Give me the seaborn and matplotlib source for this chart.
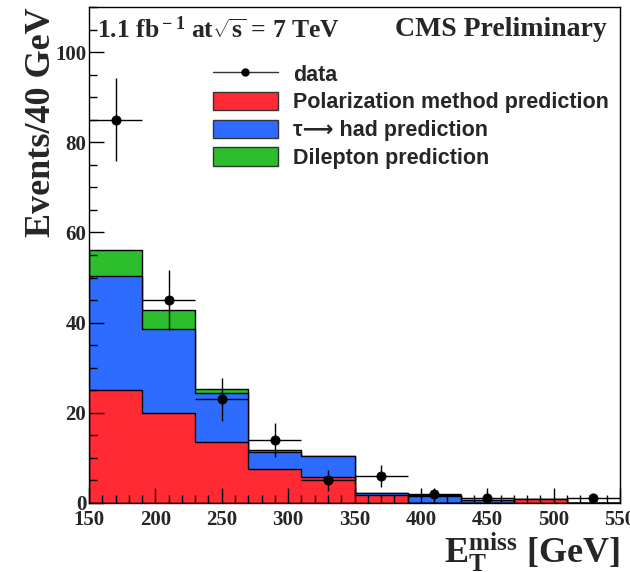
import numpy as np
import pandas as pd
import matplotlib
matplotlib.use("Agg")
import matplotlib.pyplot as plt
from matplotlib.patches import Patch
from matplotlib.lines import Line2D
from matplotlib.ticker import MultipleLocator
import seaborn as sns

# Missing transverse energy bins (GeV)
bin_edges = [150, 190, 230, 270, 310, 350, 390, 430, 470, 510, 550]
bin_centers = [170, 210, 250, 290, 330, 370, 410, 450, 490, 530]

# Background predictions per bin (events / 40 GeV)
polarization_pred = [25.0, 20.0, 13.5, 7.6, 5.7, 1.7, 0.0, 0.0, 0.9, 0.0]
tau_had_pred = [25.3, 18.5, 10.9, 3.6, 4.7, 0.6, 1.6, 0.7, 0.0, 0.0]
dilepton_pred = [5.8, 4.4, 0.8, 0.6, 0.1, 0.0, 0.2, 0.0, 0.0, 0.0]

# Observed events
data_counts = [85, 45, 23, 14, 5, 6, 2, 1, 0, 1]

ytick_values = [0, 20, 40, 60, 80, 100]
xtick_values = [150, 200, 250, 300, 350, 400, 450, 500, 550]

RED = "#FF2A33"
BLUE = "#2E6CFF"
GREEN = "#2DBE2D"

sns.set_style("white")
plt.rcParams["font.family"] = ["Liberation Serif", "DejaVu Serif"]
plt.rcParams["mathtext.fontset"] = "custom"
plt.rcParams["mathtext.rm"] = "Liberation Serif:bold"
plt.rcParams["mathtext.bf"] = "Liberation Serif:bold"
plt.rcParams["mathtext.it"] = "Liberation Serif:bold"

fig = plt.figure(figsize=(6.30, 5.72), dpi=100)
ax = fig.add_axes([89 / 630, 1 - 503 / 572, 531 / 630, 496 / 572])

pol = np.array(polarization_pred)
tau = np.array(tau_had_pred)
dil = np.array(dilepton_pred)

# Stacked layers, drawn from the total down so each lower layer sits on top
layers = [
    (pol + tau + dil, GREEN),
    (pol + tau, BLUE),
    (pol, RED),
]
for weights, color in layers:
    sns.histplot(x=bin_centers, weights=weights, bins=bin_edges, element="step",
                 fill=True, color=color, alpha=1.0, edgecolor="black",
                 linewidth=1.0, ax=ax)

# Data points with Poisson errors; empty bins are not drawn
obs = pd.DataFrame({"x": bin_centers, "n": data_counts})
obs = obs[obs["n"] > 0]
ax.errorbar(obs["x"], obs["n"], xerr=20, yerr=np.sqrt(obs["n"]), fmt="none",
            ecolor="black", elinewidth=1.0, capsize=0, zorder=5)
sns.scatterplot(data=obs, x="x", y="n", color="black", s=45, edgecolor="black",
                linewidth=0.5, zorder=6, ax=ax, legend=False)

ax.set_xlim(150, 550)
ax.set_ylim(0, 110)
ax.set_xticks(xtick_values)
ax.set_yticks(ytick_values)
ax.xaxis.set_minor_locator(MultipleLocator(10))
ax.yaxis.set_minor_locator(MultipleLocator(5))
ax.tick_params(axis="both", which="both", direction="in", width=1.0, color="black",
               bottom=True, left=True, top=False, right=False)
ax.tick_params(axis="both", which="major", length=11, labelsize=15)
ax.tick_params(axis="both", which="minor", length=6)
ax.tick_params(axis="x", which="major", pad=5)
ax.tick_params(axis="y", which="major", pad=2)
for lab in ax.get_xticklabels() + ax.get_yticklabels():
    lab.set_fontweight("bold")
for sp in ax.spines.values():
    sp.set_visible(True)
    sp.set_color("black")
    sp.set_linewidth(1.0)
ax.set_axisbelow(False)

ax.set_xlabel(r"E$_{\rm T}^{\rm miss}$ [GeV]", fontsize=26, fontweight="bold",
              loc="right", labelpad=0)
ax.set_ylabel("Events/40 GeV", fontsize=26, fontweight="bold", loc="top")
ax.yaxis.set_label_coords(-31 / 531, 1.0)

fig.text(97 / 630, 1 - 30 / 572, r"1.1 fb$^{\rm -1}$ at$\sqrt{\rm s}$ = 7 TeV",
         fontsize=18.5, fontweight="bold", ha="left", va="center")
fig.text(607 / 630, 1 - 30 / 572, "CMS Preliminary", fontsize=20,
         fontweight="bold", ha="right", va="center")

handles = [
    Line2D([0], [0], color="#333333", lw=1.0, marker="o", markersize=5,
           markerfacecolor="black", markeredgecolor="black"),
    Patch(facecolor=RED, edgecolor="#333333", linewidth=1.0),
    Patch(facecolor=BLUE, edgecolor="#333333", linewidth=1.0),
    Patch(facecolor=GREEN, edgecolor="#333333", linewidth=1.0),
]
labels = ["data", "Polarization method prediction", "\u03c4\u27f6 had prediction",
          "Dilepton prediction"]
fig.legend(handles, labels, loc="upper left",
           bbox_to_anchor=(213 / 630, 1 - 64 / 572), frameon=False,
           borderpad=0, borderaxespad=0, handlelength=3.0, handleheight=0.93,
           handletextpad=0.7, labelspacing=0.29,
           prop={"family": ["Liberation Sans", "DejaVu Sans"], "weight": "bold",
                 "size": 15.5})

fig.savefig("out.png", dpi=100)
